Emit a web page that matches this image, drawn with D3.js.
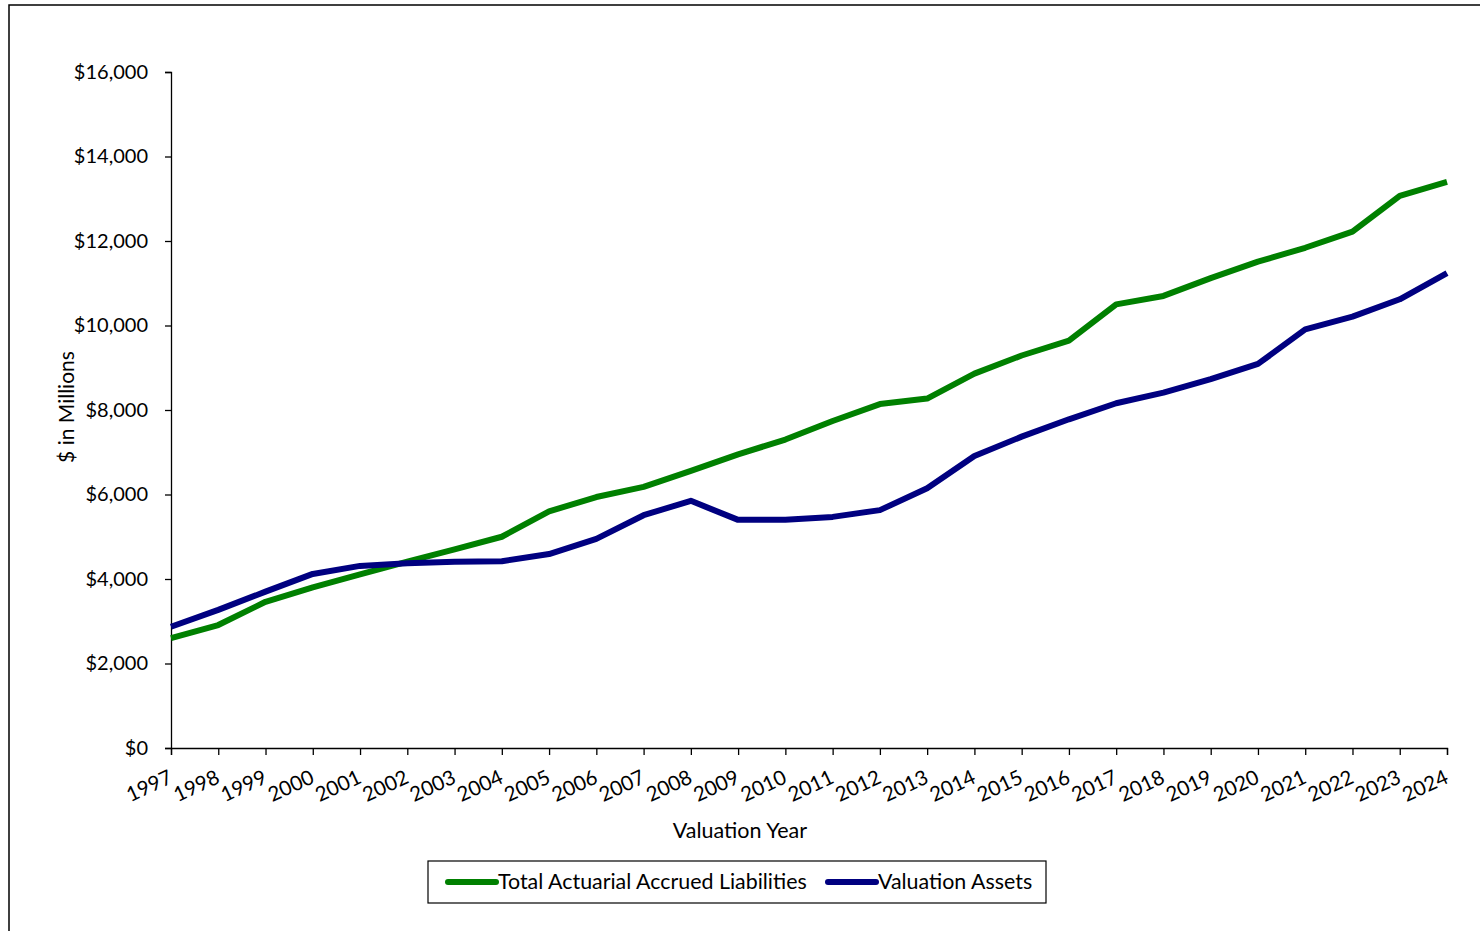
<!DOCTYPE html>
<html>
<head>
<meta charset="utf-8">
<script src="https://cdn.jsdelivr.net/npm/d3@7"></script>
<style>
  html, body { margin: 0; padding: 0; background: #fff; }
  svg { display: block; font-family: "Lato", "Open Sans", sans-serif; }
</style>
</head>
<body>
<svg id="chart" width="1480" height="931"></svg>
<script>
// Valuation years and funding series ($ in millions)
const years = [1997, 1998, 1999, 2000, 2001, 2002, 2003, 2004, 2005, 2006, 2007, 2008, 2009, 2010,
               2011, 2012, 2013, 2014, 2015, 2016, 2017, 2018, 2019, 2020, 2021, 2022, 2023, 2024];
const liabilities = [2600, 2910, 3460, 3800, 4110, 4410, 4700, 5000, 5600, 5940, 6180, 6560, 6950, 7300,
                     7740, 8140, 8270, 8860, 9290, 9640, 10500, 10700, 11120, 11510, 11840, 12220, 13070, 13400];
const assets = [2870, 3270, 3700, 4120, 4310, 4370, 4410, 4420, 4590, 4950, 5510, 5850, 5400, 5400,
                5470, 5630, 6150, 6910, 7370, 7780, 8160, 8410, 8730, 9090, 9910, 10210, 10620, 11240];
const yTicks = [0, 2000, 4000, 6000, 8000, 10000, 12000, 14000, 16000];
const seriesNames = ["Total Actuarial Accrued Liabilities", "Valuation Assets"];
const seriesColors = ["#008000", "#000080"];

const svg = d3.select("#chart");

// chart frame
svg.append("rect")
  .attr("x", 9).attr("y", 5).attr("width", 1500).attr("height", 960)
  .attr("fill", "none").attr("stroke", "#000").attr("stroke-width", 1.5);

const plot = { left: 171, right: 1447, top: 72, bottom: 748 };

const x = d3.scaleLinear().domain([years[0], years[years.length - 1]]).range([plot.left, plot.right]);
const y = d3.scaleLinear().domain([0, 16000]).range([plot.bottom, plot.top]);

// y axis
const yAxis = d3.axisLeft(y)
  .tickValues(yTicks)
  .tickSize(6)
  .tickPadding(17)
  .tickFormat(d => "$" + d3.format(",")(d));
const gy = svg.append("g").attr("transform", `translate(${plot.left},0)`).call(yAxis);
gy.select(".domain").attr("stroke", "#000").attr("stroke-width", 1.3);
gy.selectAll(".tick line").attr("stroke", "#000").attr("stroke-width", 1.3);
gy.selectAll(".tick text").attr("font-size", 20).attr("fill", "#000")
  .attr("font-family", "Lato, sans-serif");

// x axis
const xAxis = d3.axisBottom(x)
  .tickValues(years)
  .tickSize(7)
  .tickFormat(d => String(d));
const gx = svg.append("g").attr("transform", `translate(0,${plot.bottom})`).call(xAxis);
gx.select(".domain").attr("stroke", "#000").attr("stroke-width", 1.3);
gx.selectAll(".tick line").attr("stroke", "#000").attr("stroke-width", 1.3);
gx.selectAll(".tick text")
  .attr("font-size", 20.5).attr("fill", "#000")
  .attr("font-family", "Lato, sans-serif")
  .attr("text-anchor", "end")
  .attr("x", 0).attr("y", 0).attr("dy", "0.71em")
  .attr("transform", "translate(-4,21) rotate(-25)");

// axis titles
svg.append("text")
  .attr("x", 740).attr("y", 838)
  .attr("text-anchor", "middle").attr("font-size", 21.5).attr("fill", "#000")
  .text("Valuation Year");
svg.append("text")
  .attr("transform", "translate(74,407) rotate(-90)")
  .attr("text-anchor", "middle").attr("font-size", 21).attr("fill", "#000")
  .text("$ in Millions");

// series lines
const line = d3.line().x((d, i) => x(years[i])).y(d => y(d));
[liabilities, assets].forEach((vals, k) => {
  svg.append("path")
    .datum(vals)
    .attr("d", line)
    .attr("fill", "none")
    .attr("stroke", seriesColors[k])
    .attr("stroke-width", 6)
    .attr("stroke-linejoin", "round");
});

// legend
const lg = svg.append("g");
lg.append("rect")
  .attr("x", 428).attr("y", 861).attr("width", 618).attr("height", 42)
  .attr("fill", "#fff").attr("stroke", "#000").attr("stroke-width", 1.2);
const legendX = [448, 828];
seriesNames.forEach((name, k) => {
  lg.append("line")
    .attr("x1", legendX[k]).attr("x2", legendX[k] + 48)
    .attr("y1", 882).attr("y2", 882)
    .attr("stroke", seriesColors[k]).attr("stroke-width", 6)
    .attr("stroke-linecap", "round");
  lg.append("text")
    .attr("x", legendX[k] + 50).attr("y", 882).attr("dy", "0.35em")
    .attr("font-size", 21.4).attr("fill", "#000")
    .text(name);
});
</script>
</body>
</html>
